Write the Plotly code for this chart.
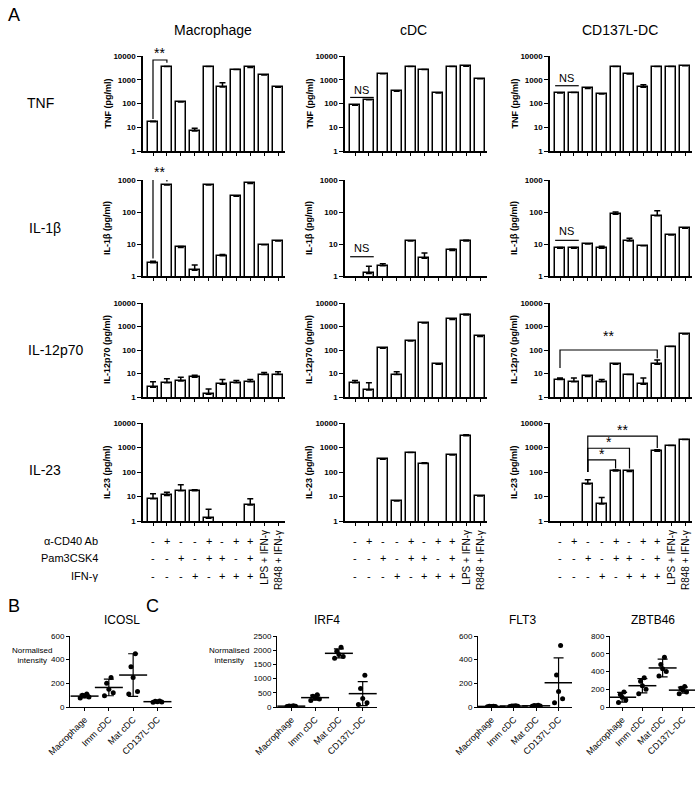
import math
import plotly.graph_objects as go

W, H = 700, 811
FONT = "Liberation Sans, Arial, sans-serif"

# ---------------- Panel A data ----------------
conditions = [1, 2, 3, 4, 5, 6, 7, 8, 9, 10]
cell_types = ["Macrophage", "cDC", "CD137L-DC"]
row_labels = ["TNF", "IL-1β", "IL-12p70", "IL-23"]
y_titles = ["TNF (pg/ml)", "IL-1β (pg/ml)", "IL-12p70 (pg/ml)", "IL-23 (pg/ml)"]

# mean values (pg/ml); None = not detected
tnf_mac = [17, 3600, 115, 7, 3600, 500, 2700, 3300, 1600, 480]
tnf_cdc = [85, 145, 1800, 330, 3600, 2700, 280, 3600, 3700, 1100]
tnf_c137 = [280, 290, 430, 250, 3600, 1750, 480, 3600, 3600, 3900]
il1b_mac = [2.6, 700, 7.8, 1.5, 700, 4.3, 310, 780, 9.5, 12.5]
il1b_cdc = [None, 1.2, 2.1, None, 12.5, 3.6, None, 6.3, 12.5, None]
il1b_c137 = [7.3, 7.4, 10, 7.3, 85, 12.5, 8.8, 76, 19, 31]
il12_mac = [2.6, 4, 4.8, 7, 1.3, 3.5, 4, 4.5, 9, 9]
il12_cdc = [4, 2, 120, 9, 240, 1400, 25, 2000, 3100, 380]
il12_c137 = [5.5, 4.5, 7.5, 4.5, 25, 9, 3.5, 25, 140, 480]
il23_mac = [8, 11, 17, 17, 1.3, None, None, 4.5, None, None]
il23_cdc = [None, None, 330, 6.5, 620, 220, None, 500, 3000, 10.5]
il23_c137 = [None, None, 32, 5, 110, 105, None, 700, 1200, 2100]

# upper end of error bars (pg/ml); None = no visible error bar
tnf_mac_err = [18, None, None, 9, None, 750, None, None, None, None]
tnf_cdc_err = [None] * 10
tnf_c137_err = [None, None, None, None, None, None, 620, None, None, None]
il1b_mac_err = [2.9, None, 8.3, 2.2, None, 4.7, None, None, None, None]
il1b_cdc_err = [None, 2.0, 2.4, None, None, 5.2, None, 6.8, 13, None]
il1b_c137_err = [7.8, 7.8, None, 8.5, 100, 15, None, 110, None, None]
il12_mac_err = [4.5, 6, 7, 8.5, 2.2, 5.5, 5, 5.5, 11, 12]
il12_cdc_err = [5, 4, None, 12, None, None, None, None, 3300, None]
il12_c137_err = [6.5, 6.5, None, 5.5, 26, None, 6.5, 38, None, None]
il23_mac_err = [13, 15, 30, 19, 3, None, None, 8, None, None]
il23_cdc_err = [None, None, None, None, None, 240, None, None, 3300, None]
il23_c137_err = [None, None, 48, 9, 120, 110, None, 800, None, None]

values = [
    [tnf_mac, tnf_cdc, tnf_c137],
    [il1b_mac, il1b_cdc, il1b_c137],
    [il12_mac, il12_cdc, il12_c137],
    [il23_mac, il23_cdc, il23_c137],
]
errors = [
    [tnf_mac_err, tnf_cdc_err, tnf_c137_err],
    [il1b_mac_err, il1b_cdc_err, il1b_c137_err],
    [il12_mac_err, il12_cdc_err, il12_c137_err],
    [il23_mac_err, il23_cdc_err, il23_c137_err],
]
decades = [4, 3, 4, 4]

treat_labels = ["α-CD40 Ab", "Pam3CSK4", "IFN-γ"]
cd40_signs = ["-", "+", "-", "-", "+", "-", "+", "+"]
pam_signs = ["-", "-", "+", "-", "+", "+", "-", "+"]
ifn_signs = ["-", "-", "-", "+", "-", "+", "+", "+"]
extra_labels = ["LPS + IFN-γ", "R848 + IFN-γ"]

# ---------------- Panel B/C data ----------------
groups = ["Macrophage", "Imm cDC", "Mat cDC", "CD137L-DC"]
icosl_pts = [[75, 85, 95, 100, 110], [95, 120, 150, 200, 250], [110, 130, 250, 340, 450], [40, 42, 45, 48, 50]]
icosl_mean = [92, 165, 270, 45]
icosl_sd = [15, 70, 180, 5]
irf4_pts = [[20, 25, 30, 35, 40], [230, 280, 320, 380, 430], [1720, 1780, 1850, 1960, 2100], [90, 150, 300, 650, 1120]]
irf4_mean = [30, 330, 1890, 470]
irf4_sd = [8, 90, 160, 420]
flt3_pts = [[3, 4, 5, 6, 7], [5, 7, 8, 9, 11], [6, 8, 10, 12, 14], [35, 70, 130, 270, 520]]
flt3_mean = [5, 8, 10, 205]
flt3_sd = [2, 3, 3, 210]
zbtb46_pts = [[50, 80, 110, 140, 170], [150, 200, 240, 290, 330], [350, 400, 430, 480, 560], [150, 170, 190, 210, 230]]
zbtb46_mean = [110, 240, 440, 190]
zbtb46_sd = [55, 80, 100, 35]

fig = go.Figure()
annots = []
ax_count = [0]


def px2x(p):
    return p / W


def px2y(p):
    return 1 - p / H


def text_ann(text, x, y, size, xanchor="center", yanchor="middle", **kw):
    d = dict(text=text, x=x, y=y, xref=kw.pop("xref", "paper"), yref=kw.pop("yref", "paper"),
             xanchor=xanchor, yanchor=yanchor, showarrow=False,
             font=dict(size=size, family=FONT, color="black", weight=kw.pop("weight", "normal")))
    d.update(kw)
    annots.append(d)


def new_axes(x0, x1, y0, y1, xkw, ykw):
    ax_count[0] += 1
    n = ax_count[0]
    s = "" if n == 1 else str(n)
    fig.update_layout(**{
        "xaxis" + s: dict(domain=[px2x(x0), px2x(x1)], anchor="y" + s, automargin=False, **xkw),
        "yaxis" + s: dict(domain=[px2y(y1), px2y(y0)], anchor="x" + s, automargin=False, **ykw),
    })
    return "x" + s, "y" + s


col_left = [143, 345, 550]
col_w = 142
row_top = [56, 180, 303, 423]
row_bot = [151, 276, 397, 521]

axmap = {}
for r in range(4):
    for c in range(3):
        xa, ya = new_axes(
            col_left[c], col_left[c] + col_w, row_top[r], row_bot[r],
            dict(range=[0.28, 10.5], tickvals=conditions, ticks="outside", ticklen=3,
                 tickwidth=1.2, tickcolor="black", showticklabels=False, showline=True,
                 linecolor="black", linewidth=1.5, showgrid=False, zeroline=False),
            dict(type="log", range=[0, decades[r]],
                 tickvals=[10 ** k for k in range(decades[r] + 1)],
                 ticktext=[str(10 ** k) for k in range(decades[r] + 1)],
                 ticks="outside", ticklen=4, tickwidth=1.2, tickcolor="black", showline=True,
                 linecolor="black", linewidth=1.5, showgrid=False, zeroline=False,
                 tickfont=dict(size=8, family=FONT, color="black", weight="bold")),
        )
        axmap[(r, c)] = (xa, ya)
        vals = values[r][c]
        errs = errors[r][c]
        delta = [(e - v) if (e is not None and v is not None) else None for v, e in zip(vals, errs)]
        fig.add_trace(go.Bar(
            x=conditions, y=vals, width=0.72, xaxis=xa, yaxis=ya, showlegend=False,
            marker=dict(color="white", line=dict(color="black", width=1.5)),
            error_y=dict(type="data", symmetric=False, array=delta,
                         arrayminus=[0] * 10, color="black", thickness=1.5, width=3),
        ))
        text_ann(y_titles[r], px2x(col_left[c] - 36), px2y((row_top[r] + row_bot[r]) / 2), 9,
                 textangle=-90, weight="bold")

# column titles and row labels
col_centers = [213, 413, 620]
for c, name in enumerate(cell_types):
    text_ann(name, px2x(col_centers[c]), px2y(30), 14)
row_label_x = [40, 45, 55, 45]
row_label_y = [103, 228, 350, 470]
for r, name in enumerate(row_labels):
    text_ann(name, px2x(row_label_x[r]), px2y(row_label_y[r]), 14)

# panel letters
for t, x, y in [("A", 14, 15), ("B", 14, 606), ("C", 152, 606)]:
    text_ann(t, px2x(x), px2y(y), 18)


def log_to_paper(r, v):
    frac = math.log10(v) / decades[r]
    return px2y(row_bot[r] - frac * (row_bot[r] - row_top[r]))


# significance brackets (drawn in data coordinates)
def bracket(r, c, xs, ys, label, lx, ly, size=14):
    xa, ya = axmap[(r, c)]
    fig.add_trace(go.Scatter(x=xs, y=ys, mode="lines", xaxis=xa, yaxis=ya, showlegend=False,
                             line=dict(color="black", width=1.2), cliponaxis=False,
                             hoverinfo="skip"))
    text_ann(label, lx, log_to_paper(r, ly), size, xref=xa)


bracket(0, 0, [1, 1, 2, 2], [22, 6800, 6800, 5200], "**", 1.5, 13000)
bracket(1, 0, [1, 1, 2, 2], [3.5, 1150, 1150, 900], "**", 1.5, 1750)
bracket(0, 1, [0.65, 2.35], [180, 180], "NS", 1.5, 380, 11)
bracket(0, 2, [0.65, 2.35], [560, 560], "NS", 1.5, 1200, 11)
bracket(1, 1, [0.65, 2.35], [4, 4], "NS", 1.5, 7.5, 11)
bracket(1, 2, [0.65, 2.35], [13, 13], "NS", 1.5, 25, 11)
bracket(2, 2, [1, 1, 8, 8], [17, 100, 100, 45], "**", 4.5, 400)
bracket(3, 2, [3, 3, 5, 5], [100, 310, 310, 140], "*", 4.0, 560)
bracket(3, 2, [3, 3, 6, 6], [100, 930, 930, 140], "*", 4.5, 1650)
bracket(3, 2, [3, 3, 8, 8], [100, 2900, 2900, 950], "**", 5.5, 5200)

# treatment table
table_y = [541, 558, 576]
for i, lab in enumerate(treat_labels):
    text_ann(lab, px2x(100), px2y(table_y[i]), 11, xanchor="right")
for c in range(3):
    xa, _ = axmap[(3, c)]
    for i, signs in enumerate([cd40_signs, pam_signs, ifn_signs]):
        for j, s in enumerate(signs):
            text_ann(s, conditions[j], px2y(table_y[i]), 11, xref=xa)
    for k, lab in enumerate(extra_labels):
        text_ann(lab, conditions[8 + k], px2y(528), 10, yanchor="top", xref=xa, textangle=-90)

# ---------------- Panels B and C ----------------
spread = [-0.18, 0.18, 0.0, -0.09, 0.09]
sc_specs = [
    ("ICOSL", icosl_pts, icosl_mean, icosl_sd, 70, 172, 600, 200, 122),
    ("IRF4", irf4_pts, irf4_mean, irf4_sd, 277, 377, 2500, 500, 327),
    ("FLT3", flt3_pts, flt3_mean, flt3_sd, 478, 572, 600, 200, 522),
    ("ZBTB46", zbtb46_pts, zbtb46_mean, zbtb46_sd, 610, 695, 800, 200, 653),
]
for name, pts, mean, sd, x0, x1, ymax, dt, tx in sc_specs:
    xa, ya = new_axes(
        x0, x1, 636, 707,
        dict(range=[0.4, 4.6], tickvals=[1, 2, 3, 4], ticktext=groups, tickangle=-45,
             ticks="outside", ticklen=3, tickcolor="black", showline=True, linecolor="black",
             linewidth=1, showgrid=False, zeroline=False,
             tickfont=dict(size=9, family=FONT, color="black")),
        dict(range=[0, ymax], dtick=dt, ticks="outside", ticklen=3, tickcolor="black",
             showline=True, linecolor="black", linewidth=1, showgrid=False, zeroline=False,
             tickfont=dict(size=8, family=FONT, color="black")),
    )
    xs, ys = [], []
    for g, p in enumerate(pts):
        for j, v in enumerate(p):
            xs.append(g + 1 + spread[j % len(spread)])
            ys.append(v)
    fig.add_trace(go.Scatter(x=xs, y=ys, mode="markers", xaxis=xa, yaxis=ya, showlegend=False,
                             marker=dict(color="black", size=5)))
    fig.add_trace(go.Scatter(x=[1, 2, 3, 4], y=mean, mode="markers", xaxis=xa, yaxis=ya,
                             showlegend=False,
                             marker=dict(symbol="line-ew-open", size=20, color="black",
                                         line=dict(color="black", width=1.5)),
                             error_y=dict(type="data", array=sd, color="black", thickness=1.2,
                                          width=5)))
    text_ann(name, px2x(tx), px2y(620), 12)

for x in [32, 229]:
    text_ann("Normalised<br>intensity", px2x(x), px2y(655), 8)

fig.update_layout(
    template="none",
    width=W, height=H, margin=dict(l=0, r=0, t=0, b=0, autoexpand=False),
    paper_bgcolor="white", plot_bgcolor="white",
    font=dict(family=FONT, color="black"),
    annotations=annots, bargap=0, showlegend=False,
)
fig.write_html("out.html", config={"displayModeBar": False},
               post_script="document.body.style.margin='0px';document.body.style.padding='0px';")
